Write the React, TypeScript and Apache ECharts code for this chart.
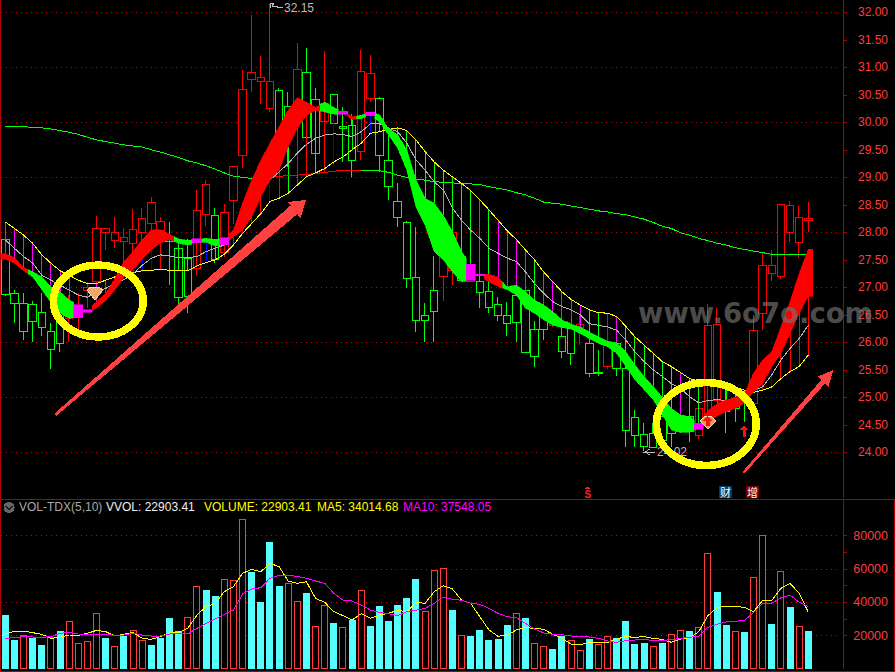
import React, { useEffect, useRef } from "react";
import * as echarts from "echarts";

const barCount = 92;
const categories = Array.from({ length: barCount }, (_, i) => String(i));
const priceLabels = [32, 31.5, 31, 30.5, 30, 29.5, 29, 28.5, 28, 27.5, 27, 26.5, 26, 25.5, 25, 24.5, 24];
const priceGrid = [32, 31, 30, 29, 28, 27, 26, 25, 24];
const volLabels = [20000, 40000, 60000, 80000];
const volTicks = [20000, 30000, 40000, 50000, 60000, 70000, 80000];

// open, close, low, high
const candles: number[][] = [
  [27.87,26.87,26.85,27.87],[26.89,26.71,26.36,26.95],[26.71,26.19,26.04,26.89],[26.69,26.37,26.0,26.76],[26.54,26.27,26.11,26.89],
  [26.19,25.87,25.51,26.36],[26.77,25.98,25.83,26.89],[26.44,26.74,26.01,26.86],[26.45,26.65,26.07,26.9],[26.94,27.0,26.62,27.1],
  [27.1,28.07,26.92,28.3],[27.99,28.07,27.68,28.07],[27.85,27.99,27.71,28.28],[27.83,27.91,27.37,28.07],[27.8,28.05,27.44,28.42],
  [27.99,28.25,27.59,28.44],[28.16,28.54,28.04,28.64],[28.04,28.19,27.92,28.28],[27.92,27.83,27.04,28.19],[27.71,26.82,26.62,27.78],
  [27.53,26.84,26.54,27.87],[27.34,28.39,27.21,28.77],[28.33,28.87,28.11,28.95],[28.3,27.5,27.45,28.45],[27.63,28.36,27.55,28.51],
  [28.57,29.2,28.16,29.2],[29.39,30.6,29.17,30.95],[30.77,30.91,30.56,31.95],[30.74,30.82,30.33,31.2],[30.25,30.75,30.18,32.15],
  [30.57,29.65,29.13,30.62],[30.28,30.04,29.19,30.56],[30.34,30.96,28.86,31.45],[30.91,29.72,29.07,31.36],[30.41,29.44,29.1,30.62],
  [30.01,30.34,29.07,31.3],[30.51,29.98,29.25,30.51],[29.93,29.89,29.28,30.28],[29.94,29.3,29.0,30.16],[29.47,30.93,29.31,31.31],
  [30.43,30.89,30.37,31.22],[30.43,29.4,29.1,30.46],[29.31,28.83,28.59,29.92],[28.56,28.27,28.1,28.89],[28.18,27.16,26.98,28.2],
  [27.18,26.39,26.19,28.1],[26.49,26.39,26.01,26.71],[26.94,26.56,26.01,27.57],[27.19,27.68,26.76,28.2],[27.31,28.0,27.04,28.05],
  [27.56,27.13,27.1,27.86],[27.1,27.4,27.1,27.8],[27.1,26.91,26.63,27.5],[26.92,26.63,26.53,27.19],[26.69,26.49,26.39,26.83],
  [26.49,26.34,26.12,26.73],[26.85,26.36,26.01,27.25],[26.94,25.81,25.81,27.68],[26.24,25.74,25.56,26.38],[26.47,26.24,26.04,26.59],
  [26.31,26.34,26.28,26.65],[26.1,25.83,25.72,26.28],[26.25,25.8,25.58,26.28],[26.27,26.33,25.95,26.47],[25.98,25.44,25.37,26.1],
  [25.46,25.43,25.39,25.86],[25.56,25.98,25.51,26.53],[25.98,25.53,25.39,26.41],[25.53,24.39,24.1,25.74],[24.64,24.3,24.1,24.77],
  [24.33,24.11,24.02,24.53],[24.34,24.09,24.09,24.53],[24.66,24.21,24.1,24.89],[24.5,24.34,24.1,24.83],[24.37,24.65,24.35,25.13],
  [24.65,24.37,24.19,24.95],[24.31,24.8,24.24,25.13],[24.65,26.31,24.6,26.7],[24.95,26.33,24.95,26.62],[24.92,24.74,24.36,25.13],
  [24.98,24.8,24.56,25.13],[25.04,24.89,24.56,25.13],[24.89,26.22,24.77,26.5],[26.53,27.4,26.22,27.65],[27.25,27.4,27.12,27.68],
  [27.19,28.5,27.16,28.52],[28.0,28.48,27.82,28.57],[27.82,28.27,27.53,28.47],[28.22,28.26,28.0,28.56],
];

const ribbonTop = [
  27.61,27.54,27.36,27.28,27.19,27.01,26.92,26.77,26.68,26.59,26.74,26.89,27.16,27.47,27.65,27.87,28.04,28.05,27.96,27.88,
  27.85,27.88,27.89,27.87,27.9,28.04,28.53,28.95,29.31,29.62,29.92,30.22,30.45,30.37,30.27,30.37,30.27,30.2,30.1,30.13,
  30.18,30.14,29.89,29.77,29.5,28.95,28.62,28.53,28.31,28.01,27.65,27.42,27.24,27.24,27.18,27.01,27.04,26.92,26.77,26.68,
  26.56,26.41,26.33,26.28,26.19,26.1,26.02,25.99,25.83,25.59,25.38,25.2,25.0,24.8,24.68,24.65,24.53,24.76,24.89,24.95,
  25.0,25.07,25.44,25.68,25.83,26.28,26.74,27.25,27.69,
];
const ribbonBottom = [
  27.51,27.44,27.3,27.19,26.96,26.72,26.53,26.44,26.45,26.55,26.62,26.76,26.95,27.19,27.32,27.51,27.68,27.81,27.87,27.8,
  27.77,27.81,27.82,27.75,27.77,27.92,28.04,28.28,28.65,28.95,29.13,29.56,29.89,30.13,30.22,30.19,30.15,30.15,30.05,30.07,
  30.12,30.01,29.77,29.53,29.13,28.47,28.13,27.65,27.5,27.28,27.1,27.13,27.21,27.1,27.01,26.96,26.86,26.62,26.53,26.41,
  26.31,26.27,26.24,26.16,26.07,25.98,25.92,25.8,25.56,25.32,25.14,24.96,24.68,24.41,24.36,24.37,24.42,24.59,24.66,24.74,
  24.8,24.89,25.1,25.25,25.56,25.8,26.16,26.53,26.84,
];
const ribbonColors = [
  "rrrgggggmm", "rrrrrrrrrg", "gmggmrrrrr", "rrrrrggmrg", "mggggggggg", "gmmrrggggg", "gggggggggg", "ggggggmrrr", "rrrrrrrrr",
].join("");

const yellowLine = [
  28.19,28.07,27.95,27.8,27.59,27.44,27.3,27.22,27.13,27.07,27.07,27.13,27.19,27.22,27.27,27.3,27.31,27.33,27.31,27.3,
  27.3,27.39,27.45,27.5,27.6,27.77,27.98,28.16,28.34,28.56,28.62,28.71,28.86,29.01,29.08,29.16,29.28,29.37,29.5,29.62,
  29.8,29.83,29.87,29.9,29.85,29.68,29.47,29.28,29.13,29.01,28.89,28.76,28.59,28.41,28.22,28.03,27.87,27.68,27.5,27.28,
  27.1,26.92,26.78,26.68,26.59,26.54,26.53,26.47,26.29,26.1,25.95,25.8,25.65,25.56,25.45,25.34,25.3,25.3,25.28,25.25,
  25.19,25.13,25.09,25.13,25.19,25.34,25.47,25.56,25.77,
];
const whiteLine = [
  27.86,27.71,27.56,27.44,27.22,27.13,27.04,26.95,26.86,26.82,26.92,26.98,27.08,27.14,27.25,27.4,27.53,27.59,27.57,27.54,
  27.54,27.56,27.65,27.71,27.77,27.95,28.25,28.53,28.77,28.95,29.1,29.25,29.44,29.6,29.71,29.77,29.79,29.78,29.74,29.83,
  29.97,29.98,29.89,29.83,29.62,29.32,29.13,28.92,28.77,28.44,28.22,28.04,27.89,27.71,27.62,27.53,27.47,27.28,27.07,26.89,
  26.74,26.65,26.59,26.5,26.34,26.31,26.28,26.22,26.04,25.83,25.65,25.5,25.38,25.25,25.16,25.01,24.9,24.94,24.96,24.94,
  24.95,25.01,25.13,25.19,25.41,25.68,25.89,26.07,26.31,
];
const longLine = [
  29.93,29.93,29.92,29.91,29.9,29.88,29.85,29.82,29.78,29.73,29.68,29.65,29.62,29.59,29.57,29.55,29.5,29.46,29.41,29.36,
  29.3,29.26,29.21,29.15,29.08,29.02,29.0,28.98,28.99,29.01,29.02,29.03,29.04,29.05,29.07,29.09,29.11,29.13,29.13,29.13,
  29.13,29.12,29.09,29.04,29.0,28.96,28.95,28.92,28.91,28.9,28.88,28.88,28.87,28.83,28.8,28.77,28.72,28.68,28.62,28.55,
  28.53,28.51,28.48,28.45,28.42,28.39,28.37,28.34,28.32,28.28,28.24,28.18,28.11,28.07,27.99,27.95,27.89,27.85,27.8,27.77,
  27.72,27.69,27.66,27.63,27.6,27.6,27.6,27.6,27.6,
];
const longRisingFrom = 27;
const longRisingTo = 39;
const stickColors = [
  "mmmmmmmm--", "mmrrrbbrgg", "grbgrrrrrb", "rgrrgrbggr", "bggggggggg", "ggmgmmmmgm", "mmmmggrmgg", "ggggmggrmg", "ggrrbrrrr",
].join("");

const volumes = [
  32400,17400,20400,18400,14400,19400,22800,28800,15400,16800,33400,18800,13800,20000,23400,17400,14400,18800,30600,22800,
  31000,49600,47400,43800,54000,53200,89800,58200,40200,76200,49800,51400,40600,45600,25600,38200,27600,25000,29600,47200,
  25800,37800,28800,38400,42600,54000,34600,59200,60400,35400,20200,19800,23400,17400,18000,26400,33400,30600,15400,13600,
  12000,19600,17200,11200,18000,14800,19600,18400,28800,15000,15600,13600,15600,20800,23200,22800,25000,69400,46200,26400,
  22600,22200,55000,80200,27000,58600,37200,25600,22903.41,
];
const volColors = [
  "ccrccrcrrr", "rcrcrrcccc", "rrccrrrccc", "crrcrrcrcr", "ccccccrrrc", "rcccccrcrr", "ccrrcrrccc", "crcrrcrrcc", "rcrrcrcrc",
].join("");
const ma5 = [
  20800,22800,22800,21800,20800,18400,19000,20400,20200,21400,23200,22400,19800,20800,22000,18400,17800,19400,21800,22000,
  24400,32400,37400,39400,46400,49400,57400,59800,58400,63400,61400,52800,51400,52400,42400,40000,34400,32000,29400,33200,
  30400,32400,33400,35200,34400,40000,39400,46400,50000,48000,41400,39400,31400,23400,19600,20400,23400,24800,24400,23800,
  20800,18400,15000,14600,15800,16000,16000,18000,19400,19000,19400,18400,17800,16000,18000,18800,22400,32000,37000,37600,
  37600,37000,34400,41200,41200,48400,51400,45400,34014.68,
];
const ma10 = [
  18400,18800,19400,19200,19000,19400,21400,22000,21000,20800,20800,20800,20200,20400,21400,20400,19800,19800,21000,21400,
  21000,24400,27400,30000,32800,35400,45000,48000,48800,54400,56200,56200,55600,54400,52800,51400,45400,41400,40800,38400,
  35400,34000,33200,32000,34400,35200,36400,39400,43000,41800,41200,39400,38800,36400,33400,31400,30800,27400,24000,21600,
  20800,20600,19800,19600,19200,18400,16800,16000,17000,17400,17600,17200,17200,17600,18400,19000,19800,25000,26800,28200,
  28600,29200,33800,39400,39400,42800,44400,40000,37548.05,
];
const highLabel = "32.15";
const lowLabel = "24.02";
const legendTexts = [
  { text: "VOL-TDX(5,10)", color: "#a8a8a8", x: 19 },
  { text: "VVOL: 22903.41", color: "#f0f0f0", x: 106 },
  { text: "VOLUME: 22903.41", color: "#ffff00", x: 204 },
  { text: "MA5: 34014.68", color: "#ffff00", x: 317 },
  { text: "MA10: 37548.05", color: "#ff00ff", x: 403 },
];

const RED = "#ff0000";
const GREEN = "#00ff00";
const MAG = "#ff00ff";
const BLUE = "#0000ff";
const AXIS = "#b00000";
const LABEL = "#ff3c3c";
const FONT = '"Liberation Sans", Arial, sans-serif';
const SMOOTH = 0.999;
const colorMap: Record<string, string> = { r: RED, g: GREEN, m: MAG, b: BLUE };
const dotted = { type: [1.5, 3.5] as number[], color: "#d00000", width: 1 };

function ribbonItem(params: any, api: any) {
  const i = api.value(0);
  const c = ribbonColors[i];
  const fill = colorMap[c] || GREEN;
  const half = api.size([1, 0])[0] / 2;
  const yOf = (v: number) => api.coord([i, v])[1];
  const x = api.coord([i, 0])[0];
  const p = Math.max(0, i - 1);
  const n = Math.min(ribbonTop.length - 1, i + 1);
  let pts: number[][];
  if (c === "m") {
    pts = [
      [x - half, yOf(ribbonTop[i])],
      [x + half, yOf(ribbonTop[i])],
      [x + half, yOf(ribbonBottom[i])],
      [x - half, yOf(ribbonBottom[i])],
    ];
  } else {
    pts = [
      [x - half, yOf((ribbonTop[i] + ribbonTop[p]) / 2)],
      [x, yOf(ribbonTop[i])],
      [x + half, yOf((ribbonTop[i] + ribbonTop[n]) / 2)],
      [x + half, yOf((ribbonBottom[i] + ribbonBottom[n]) / 2)],
      [x, yOf(ribbonBottom[i])],
      [x - half, yOf((ribbonBottom[i] + ribbonBottom[p]) / 2)],
    ];
  }
  return {
    type: "polygon",
    z2: c === "m" ? 3 : 1,
    shape: { points: pts },
    style: { fill, stroke: fill, lineWidth: 0.6 },
  };
}

function stickItem(params: any, api: any) {
  const i = api.value(0);
  const c = colorMap[stickColors[i]];
  if (!c) return null;
  const y = yellowLine[i];
  let from: number;
  if (y > ribbonTop[i]) from = ribbonTop[i];
  else if (y < ribbonBottom[i]) from = ribbonBottom[i];
  else return null;
  const a = api.coord([i, y]);
  const b = api.coord([i, from]);
  return {
    type: "line",
    shape: { x1: a[0], y1: a[1], x2: a[0], y2: b[1] },
    style: { stroke: c, lineWidth: 1 },
  };
}

function buildOption() {
  const idx = candles.map((_, i) => [i]);
  return {
    animation: false,
    backgroundColor: "#000000",
    grid: [
      { left: 0.75, width: 839.5, top: 0, height: 498 },
      { left: 0.75, width: 839.5, top: 500, height: 169 },
    ],
    xAxis: [
      { type: "category", gridIndex: 0, data: categories, show: false },
      { type: "category", gridIndex: 1, data: categories, show: false },
    ],
    yAxis: [
      {
        type: "value", gridIndex: 0, position: "right", offset: 2.75, min: 23.17, max: 32.224, scale: true,
        splitLine: { show: false },
        axisLine: { show: true, onZero: false, lineStyle: { color: AXIS } },
        axisTick: { show: true, length: 4, lineStyle: { color: AXIS }, customValues: priceLabels },
        axisLabel: { customValues: priceLabels, color: LABEL, fontFamily: FONT, fontSize: 12, align: "right", margin: 45,
          formatter: (v: number) => v.toFixed(2) },
      },
      {
        type: "value", gridIndex: 1, position: "right", offset: 2.75, min: 0, max: 101400,
        splitLine: { show: false },
        axisLine: { show: true, onZero: false, lineStyle: { color: AXIS } },
        axisTick: { show: true, length: 4, lineStyle: { color: AXIS }, customValues: volTicks },
        axisLabel: { customValues: volLabels, color: LABEL, fontFamily: FONT, fontSize: 12.5, align: "right", margin: 45,
          formatter: (v: number) => String(v) },
      },
    ],
    series: [
      {
        type: "candlestick", xAxisIndex: 0, yAxisIndex: 0, barWidth: 8, z: 2, data: candles,
        itemStyle: { color: "#000", color0: "#000", borderColor: RED, borderColor0: GREEN, borderWidth: 1 },
        markLine: { silent: true, symbol: "none", label: { show: false }, lineStyle: dotted, z: 1,
          data: priceGrid.map((v) => ({ yAxis: v })) },
      },
      { type: "custom", xAxisIndex: 0, yAxisIndex: 0, z: 3, data: idx, renderItem: stickItem },
      { type: "line", xAxisIndex: 0, yAxisIndex: 0, z: 4, data: longLine.map((v, i) => (i <= longRisingFrom || i >= longRisingTo ? v : null)),
        showSymbol: false, connectNulls: false, lineStyle: { color: "#00ff00", width: 1 } },
      { type: "line", xAxisIndex: 0, yAxisIndex: 0, z: 4, data: longLine.map((v, i) => (i >= longRisingFrom && i <= longRisingTo ? v : null)),
        showSymbol: false, connectNulls: false, lineStyle: { color: "#ff0000", width: 1 } },
      { type: "line", xAxisIndex: 0, yAxisIndex: 0, z: 4, data: yellowLine, showSymbol: false, lineStyle: { color: "#ffff00", width: 1 } },
      { type: "line", xAxisIndex: 0, yAxisIndex: 0, z: 4, data: whiteLine, showSymbol: false, lineStyle: { color: "#b4b4b4", width: 1 } },
      { type: "custom", xAxisIndex: 0, yAxisIndex: 0, z: 5, data: idx, renderItem: ribbonItem },
      {
        type: "bar", xAxisIndex: 1, yAxisIndex: 1, barWidth: 7, z: 2,
        data: volumes.map((v, i) => ({
          value: v,
          itemStyle: volColors[i] === "c"
            ? { color: "#55ffff", borderWidth: 0 }
            : { color: "#000", borderColor: "#ff3c3c", borderWidth: 1 },
        })),
        markLine: { silent: true, symbol: "none", label: { show: false }, lineStyle: dotted, z: 1,
          data: volTicks.filter((v) => v % 20000 === 0).map((v) => ({ yAxis: v })) },
      },
      { type: "line", xAxisIndex: 1, yAxisIndex: 1, z: 4, data: ma5, showSymbol: false, lineStyle: { color: "#ffff00", width: 1 } },
      { type: "line", xAxisIndex: 1, yAxisIndex: 1, z: 4, data: ma10, showSymbol: false, lineStyle: { color: "#ff00ff", width: 1 } },
    ],
    graphic: [
      { type: "line", z: 90, shape: { x1: 0.5, y1: 0, x2: 0.5, y2: 672 }, style: { stroke: AXIS, lineWidth: 1.5 } },
      { type: "line", z: 90, shape: { x1: 0, y1: 499.5, x2: 895, y2: 499.5 }, style: { stroke: AXIS, lineWidth: 1 } },
      { type: "line", z: 90, shape: { x1: 0, y1: 671, x2: 895, y2: 671 }, style: { stroke: AXIS, lineWidth: 1 } },
      { type: "line", z: 90, shape: { x1: 894.5, y1: 499, x2: 894.5, y2: 672 }, style: { stroke: AXIS, lineWidth: 1 } },
      { type: "polyline", z: 91, shape: { points: [[270, 8], [270, 3], [274, 3], [272, 6], [283, 8]] }, style: { stroke: "#c0c0c0", fill: "none", lineWidth: 1, opacity: SMOOTH } },
      { type: "text", z: 91, x: 284, y: 2, style: { text: highLabel, fill: "#bbbbbb", font: `12px ${FONT}` } },
      { type: "polyline", z: 91, shape: { points: [[650, 449], [645, 452], [655, 452], [645, 452], [650, 455]] }, style: { stroke: "#c0c0c0", fill: "none", lineWidth: 1, opacity: SMOOTH } },
      { type: "text", z: 91, x: 657, y: 446, style: { text: lowLabel, fill: "#bbbbbb", font: `12px ${FONT}` } },
      { type: "circle", z: 91, shape: { cx: 9, cy: 507.5, r: 5.5 }, style: { fill: "#666666", opacity: SMOOTH } },
      { type: "polyline", z: 92, shape: { points: [[6, 506], [9, 509.5], [12, 506]] }, style: { stroke: "#1c1c1c", fill: "none", lineWidth: 1.6, opacity: SMOOTH } },
      ...legendTexts.map((t) => ({ type: "text", z: 91, x: t.x, y: 501, style: { text: t.text, fill: t.color, font: `12px ${FONT}` } })),
      { type: "text", z: 91, x: 584.5, y: 489.5, style: { text: "S", fill: "#ff2020", font: `bold 10px ${FONT}` } },
      { type: "polygon", z: 91, shape: { points: [[587.5, 486.5], [590.5, 489], [584.5, 489]] }, style: { fill: "#ff2020" } },
      { type: "rect", z: 91, shape: { x: 719, y: 486, width: 13, height: 12 }, style: { fill: "#063a6e" } },
      { type: "text", z: 92, x: 720, y: 486, style: { text: "财", fill: "#ffffff", font: '11px "Noto Sans CJK SC"' } },
      { type: "rect", z: 91, shape: { x: 746, y: 486, width: 13, height: 12 }, style: { fill: "#7a0000" } },
      { type: "text", z: 92, x: 747, y: 486, style: { text: "增", fill: "#ffffff", font: '11px "Noto Sans CJK SC"' } },
      { type: "polygon", z: 93, shape: { points: [[54, 414], [290.5, 205.5], [287, 202], [306, 200], [300.5, 218.5], [297.5, 214], [56, 416]] }, style: { fill: "#ff4040", opacity: SMOOTH } },
      { type: "polygon", z: 93, shape: { points: [[742.5, 472], [821.5, 379.5], [817.3, 376.7], [833.3, 370], [828.3, 387.3], [825, 383.5], [744.5, 473.5]] }, style: { fill: "#ff4040", opacity: SMOOTH } },
      { type: "polygon", z: 93, shape: { points: [[87, 290], [91, 287], [99, 287], [103, 290], [95, 300]] }, style: { fill: "#f0a868", stroke: "#ffd0a0", lineWidth: 1, opacity: SMOOTH } },
      { type: "polygon", z: 93, shape: { points: [[700, 421], [705, 416], [711, 416], [716, 421], [708, 429]] }, style: { fill: "#e89850", stroke: "#ffd8b0", lineWidth: 1, opacity: SMOOTH } },
      { type: "polygon", z: 94, shape: { points: [[707.5, 416], [702, 421], [705.5, 421], [705.5, 426], [709.5, 426], [709.5, 421], [713, 421]] }, style: { fill: "#ff1010" } },
      { type: "polygon", z: 94, shape: { points: [[744, 425], [739.5, 430], [742.5, 430], [742.5, 437], [745.5, 437], [745.5, 430], [748.5, 430]] }, style: { fill: "#ff1010" } },
      { type: "ellipse", z: 95, shape: { cx: 98.3, cy: 301, rx: 45, ry: 36 }, style: { fill: "none", stroke: "#ffff00", lineWidth: 7.5, opacity: SMOOTH } },
      { type: "ellipse", z: 95, shape: { cx: 706.3, cy: 424, rx: 50, ry: 41.5 }, style: { fill: "none", stroke: "#ffff00", lineWidth: 7.5, opacity: SMOOTH } },
      { type: "text", z: 96, x: 638, y: 299, style: { text: "www.6o7o.com", fill: "rgba(115,115,115,0.68)", font: 'bold 27.5px "DejaVu Sans"' } },
    ],
  };
}

const crispCss = `svg path, svg line, svg polyline, svg polygon, svg rect { shape-rendering: crispEdges; }
svg [opacity="0.999"] { shape-rendering: auto; }`;

export default function App() {
  const ref = useRef<HTMLDivElement>(null);
  useEffect(() => {
    document.body.style.margin = "0";
    document.body.style.background = "#000";
    const chart = echarts.init(ref.current!, undefined, { renderer: "svg" });
    chart.setOption(buildOption() as any);
    return () => chart.dispose();
  }, []);
  return (
    <>
      <style>{crispCss}</style>
      <div ref={ref} style={{ position: "fixed", left: 0, top: 0, width: 895, height: 672 }} />
    </>
  );
}
